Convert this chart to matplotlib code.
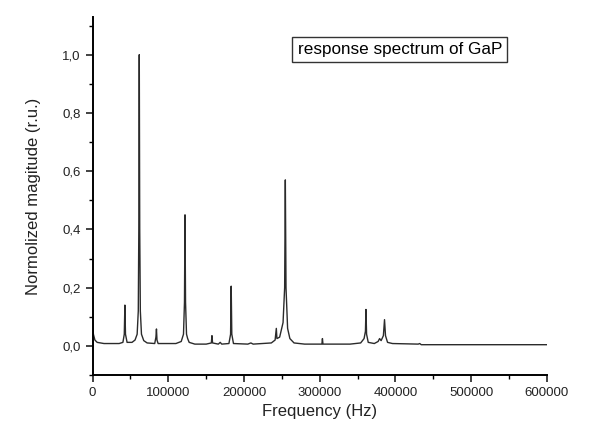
import matplotlib
matplotlib.use("Agg")
import matplotlib.pyplot as plt
from matplotlib.ticker import MultipleLocator, FuncFormatter

plt.rcParams['font.family'] = ['Liberation Sans', 'DejaVu Sans']

# response spectrum (Hz, normalized magnitude)
freq = [0, 1000, 3000, 6000, 15000, 35000, 40000, 41800, 42600, 43400, 45500,
        52000, 56000, 58800, 60300, 61000, 61600, 62200, 63000, 64500, 67500, 72000,
        82000, 83600, 84300, 85000, 86500,
        110000, 117000, 120000, 121300, 122000, 122700, 124000, 125500, 127500,
        135000, 150000, 156800, 157600, 158400, 166000, 168500, 170500,
        180000, 182200, 183000, 183800, 186000,
        205000, 209000, 212000,
        236000, 241000, 242600, 243400, 247000, 251500, 253600, 254500, 255400,
        257500, 260500, 266000,
        280000, 302800, 303500, 304200,
        340000, 354000, 358500, 360300, 361000, 361800, 364000,
        372000, 377000, 379000, 381000, 384000, 385500, 386800, 389500, 396000,
        430000, 432000, 434000, 600000]
mag = [0.08, 0.04, 0.02, 0.012, 0.008, 0.008, 0.012, 0.04, 0.14, 0.04, 0.012,
       0.012, 0.02, 0.04, 0.12, 0.4, 1.0, 0.4, 0.12, 0.04, 0.018, 0.01,
       0.008, 0.03, 0.058, 0.02, 0.008,
       0.008, 0.015, 0.04, 0.15, 0.45, 0.15, 0.04, 0.025, 0.012,
       0.006, 0.006, 0.01, 0.035, 0.01, 0.006, 0.012, 0.006,
       0.008, 0.04, 0.205, 0.04, 0.008,
       0.006, 0.01, 0.006,
       0.01, 0.02, 0.06, 0.025, 0.03, 0.08, 0.2, 0.57, 0.2,
       0.06, 0.025, 0.01,
       0.006, 0.006, 0.025, 0.006,
       0.006, 0.01, 0.025, 0.05, 0.125, 0.04, 0.012,
       0.008, 0.015, 0.025, 0.018, 0.035, 0.09, 0.035, 0.012, 0.008,
       0.006, 0.008, 0.004, 0.004]

fig = plt.figure(figsize=(5.9, 4.32), dpi=100)
ax = fig.add_axes([0.157, 0.132, 0.770, 0.829])

ax.plot(freq, mag, color="#2b2b2b", lw=1.0)

ax.set_xlim(0, 600000)
ax.set_ylim(-0.1, 1.13)
ax.spines['top'].set_visible(False)
ax.spines['right'].set_visible(False)
for s in ('left', 'bottom'):
    ax.spines[s].set_linewidth(1.4)

ax.xaxis.set_major_locator(MultipleLocator(100000))
ax.xaxis.set_minor_locator(MultipleLocator(50000))
ax.yaxis.set_major_locator(MultipleLocator(0.2))
ax.yaxis.set_minor_locator(MultipleLocator(0.1))
ax.yaxis.set_major_formatter(FuncFormatter(lambda v, p: ("%.1f" % v).replace('.', ',').replace('-0,0', '0,0')))
ax.xaxis.set_major_formatter(FuncFormatter(lambda v, p: "%d" % v))
ax.tick_params(which='major', direction='out', length=5, width=1.2, labelsize=9.5, colors='#222222')
ax.tick_params(which='minor', direction='out', length=3, width=1.0)

ax.set_xlabel("Frequency (Hz)", fontsize=12, color='#222222')
ax.set_ylabel("Normolized magitude (r.u.)", fontsize=12, color='#222222', labelpad=15)

ax.text(0.676, 0.909, "response spectrum of GaP", transform=ax.transAxes, fontsize=12.3,
        ha='center', va='center',
        bbox=dict(boxstyle='square,pad=0.3', fc='white', ec='#333333', lw=1.0))

fig.savefig("out.png", dpi=100)
